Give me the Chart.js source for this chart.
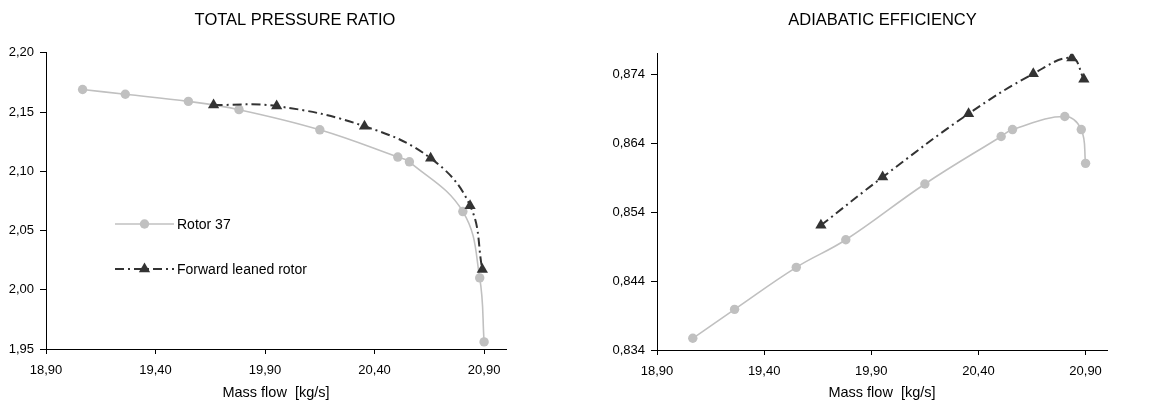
<!DOCTYPE html>
<html>
<head>
<meta charset="utf-8">
<script src="https://cdn.jsdelivr.net/npm/chart.js@4.4.1/dist/chart.umd.min.js"></script>
<style>
  html, body { margin: 0; padding: 0; background: #ffffff; }
  #wrap { position: relative; width: 1175px; height: 406px; overflow: hidden; }
  .panel { position: absolute; top: 0; height: 406px; }
  canvas { display: block; }
</style>
</head>
<body>
<div id="wrap">
  <div class="panel" style="left:0;width:590px"><canvas id="pressure" width="590" height="406" style="width:590px;height:406px"></canvas></div>
  <div class="panel" style="left:590px;width:585px"><canvas id="efficiency" width="585" height="406" style="width:585px;height:406px"></canvas></div>
</div>
<script>
// Compressor map data: mass flow [kg/s] against total pressure ratio and adiabatic efficiency
const seriesNames = ['Rotor 37', 'Forward leaned rotor'];

const massFlowRotor37 = [19.067, 19.262, 19.550, 19.781, 20.150, 20.506, 20.559, 20.803, 20.880, 20.900];
const pressureRotor37 = [2.169, 2.165, 2.159, 2.152, 2.135, 2.112, 2.108, 2.066, 2.010, 1.956];
const efficiencyRotor37 = [0.8357, 0.8399, 0.8460, 0.8500, 0.8581, 0.8650, 0.8660, 0.8679, 0.8660, 0.8611];

const massFlowLeaned = [19.665, 19.953, 20.354, 20.656, 20.836, 20.892];
const pressureLeaned = [2.156, 2.155, 2.138, 2.111, 2.071, 2.017];
const efficiencyLeaned = [0.8521, 0.8591, 0.8683, 0.8741, 0.8764, 0.8733];

const massFlowTicks = [18.90, 19.40, 19.90, 20.40, 20.90];
const pressureTicks = [1.95, 2.00, 2.05, 2.10, 2.15, 2.20];
const efficiencyTicks = [0.834, 0.844, 0.854, 0.864, 0.874];

const FONT = "'Liberation Sans', Arial, sans-serif";
const GREY = '#c0c0c0';
const DARK = '#333333';

function zip(xs, ys) { return xs.map((x, i) => ({ x: x, y: ys[i] })); }
function comma(digits) { return v => Number(v).toFixed(digits).replace('.', ','); }

// Legend drawn inside the plot area, Excel style
const insetLegend = {
  id: 'insetLegend',
  afterDatasetsDraw(chart, args, opts) {
    if (!opts || !opts.display) return;
    const ctx = chart.ctx;
    chart.data.datasets.forEach((ds, i) => {
      const y = opts.top + i * opts.rowGap;
      const x0 = opts.left, x1 = opts.left + opts.lineLength;
      ctx.save();
      ctx.strokeStyle = ds.borderColor;
      ctx.lineWidth = ds.borderWidth;
      ctx.setLineDash(ds.borderDash || []);
      ctx.beginPath();
      ctx.moveTo(x0, y);
      ctx.lineTo(x1, y);
      ctx.stroke();
      ctx.setLineDash([]);
      ctx.fillStyle = ds.pointBackgroundColor;
      ctx.strokeStyle = ds.pointBorderColor;
      Chart.helpers.drawPoint(ctx, { pointStyle: ds.pointStyle, radius: ds.pointRadius, rotation: 0, borderWidth: 0 }, (x0 + x1) / 2, y);
      ctx.fillStyle = '#000';
      ctx.font = '14px ' + FONT;
      ctx.textBaseline = 'middle';
      ctx.textAlign = 'left';
      ctx.fillText(ds.label, x1 + 3, y + 1);
      ctx.restore();
    });
  }
};

function datasets(rotorY, leanedY) {
  return [
    {
      label: seriesNames[0],
      data: zip(massFlowRotor37, rotorY),
      showLine: true,
      tension: 0.4,
      borderColor: GREY,
      borderWidth: 1.6,
      pointStyle: 'circle',
      pointRadius: 4.7,
      pointBackgroundColor: GREY,
      pointBorderColor: GREY,
      pointBorderWidth: 0,
      order: 1
    },
    {
      label: seriesNames[1],
      data: zip(massFlowLeaned, leanedY),
      showLine: true,
      tension: 0.4,
      borderColor: DARK,
      borderWidth: 2,
      borderDash: [9, 4, 2, 4],
      pointStyle: 'triangle',
      pointRadius: 6.5,
      pointBackgroundColor: DARK,
      pointBorderColor: DARK,
      pointBorderWidth: 0,
      order: 0
    }
  ];
}

function makeOptions(cfg) {
  return {
    responsive: false,
    animation: false,
    events: [],
    layout: { padding: { left: 0, right: 0, top: 0, bottom: 4 } },
    plugins: {
      legend: { display: false },
      tooltip: { enabled: false },
      title: {
        display: true,
        text: cfg.title,
        color: '#000',
        font: { family: FONT, size: 16.5, weight: 'normal' },
        padding: { top: 11, bottom: cfg.titleGap }
      },
      insetLegend: cfg.legend || { display: false }
    },
    scales: {
      x: {
        type: 'linear',
        min: 18.90,
        max: 21.00,
        afterBuildTicks: s => { s.ticks = massFlowTicks.map(v => ({ value: v })); },
        afterFit: s => { s.height = cfg.xHeight; },
        ticks: { callback: comma(2), color: '#000', font: { family: FONT, size: 13 }, padding: 9, maxRotation: 0, autoSkip: false },
        grid: { drawOnChartArea: false, drawTicks: true, tickLength: 5, color: '#000' },
        border: { display: true, color: '#000', width: 1 },
        title: { display: true, text: 'Mass flow  [kg/s]', color: '#000', font: { family: FONT, size: 14.5 }, padding: { top: 0, bottom: 0 } }
      },
      y: {
        type: 'linear',
        min: cfg.yMin,
        max: cfg.yMax,
        afterBuildTicks: s => { s.ticks = cfg.yTicks.map(v => ({ value: v })); },
        afterFit: s => { s.width = cfg.yWidth; },
        ticks: { callback: comma(cfg.yDigits), color: '#000', font: { family: FONT, size: 13 }, padding: 6, autoSkip: false },
        grid: { drawOnChartArea: false, drawTicks: true, tickLength: 6, color: '#000' },
        border: { display: true, color: '#000', width: 1 }
      },
      // empty band on the right of the plot area, keeps the title centred on the whole panel
      rightMargin: {
        type: 'linear',
        position: 'right',
        display: true,
        afterFit: s => { s.width = cfg.rightGap; },
        ticks: { display: false },
        grid: { display: false, drawTicks: false },
        border: { display: false }
      }
    }
  };
}

new Chart(document.getElementById('pressure'), {
  type: 'scatter',
  data: { datasets: datasets(pressureRotor37, pressureLeaned) },
  options: makeOptions({
    title: 'TOTAL PRESSURE RATIO',
    rightGap: 84,
    titleGap: 22,
    xHeight: 53,
    yWidth: 46,
    yMin: 1.95,
    yMax: 2.20,
    yTicks: pressureTicks,
    yDigits: 2,
    legend: { display: true, left: 115, top: 224, rowGap: 45, lineLength: 59 }
  }),
  plugins: [insetLegend]
});

new Chart(document.getElementById('efficiency'), {
  type: 'scatter',
  data: { datasets: datasets(efficiencyRotor37, efficiencyLeaned) },
  options: makeOptions({
    title: 'ADIABATIC EFFICIENCY',
    rightGap: 68,
    titleGap: 23,
    xHeight: 52,
    yWidth: 67,
    yMin: 0.834,
    yMax: 0.877,
    yTicks: efficiencyTicks,
    yDigits: 3
  }),
  plugins: [insetLegend]
});
</script>
</body>
</html>
